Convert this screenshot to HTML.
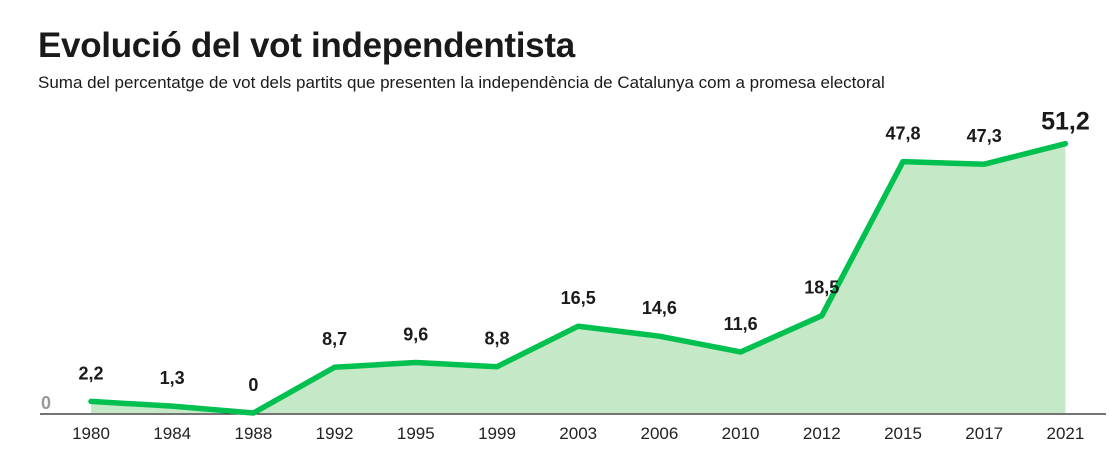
<!DOCTYPE html>
<html><head><meta charset="utf-8"><style>
body{margin:0;background:#fff;width:1109px;height:467px;overflow:hidden;font-family:"Liberation Sans",sans-serif}
h1{position:absolute;left:38px;top:26px;margin:0;font-size:35px;font-weight:bold;letter-spacing:-0.3px;color:#1a1a1a}
p{position:absolute;left:38px;top:73px;margin:0;font-size:17px;color:#1a1a1a}
svg{position:absolute;left:0;top:0}
</style></head><body>
<h1>Evolució del vot independentista</h1>
<p>Suma del percentatge de vot dels partits que presenten la independència de Catalunya com a promesa electoral</p>
<svg id="c" width="1109" height="467"></svg>
<script>
const years=["1980","1984","1988","1992","1995","1999","2003","2006","2010","2012","2015","2017","2021"];
const values=[2.2,1.3,0,8.7,9.6,8.8,16.5,14.6,11.6,18.5,47.8,47.3,51.2];
const labels=["2,2","1,3","0","8,7","9,6","8,8","16,5","14,6","11,6","18,5","47,8","47,3","51,2"];
const NS="http://www.w3.org/2000/svg";
const svg=document.getElementById('c');
const x=i=>91+i*81.2;
const y=v=>413-v*5.26;
function mk(t,a){const e=document.createElementNS(NS,t);for(const k in a)e.setAttribute(k,a[k]);svg.appendChild(e);return e;}
let pts=values.map((v,i)=>x(i)+','+y(v)).join(' ');
const area=mk('polygon',{points:x(0)+','+y(0)+' '+pts+' '+x(values.length-1)+','+y(0),fill:'#c5e8c6'});


const ax=mk('line',{x1:40,x2:1106,y1:414,y2:414,stroke:'#222','stroke-width':1.2});


const line=mk('polyline',{points:pts,fill:'none',stroke:'#00c050','stroke-width':5.5,'stroke-linejoin':'round','stroke-linecap':'round'});


const z=mk('text',{x:46,y:409,'font-size':18,'font-weight':'bold',fill:'#999','text-anchor':'middle'});z.textContent='0';


years.forEach((yr,i)=>{
 const t=mk('text',{x:x(i),y:439,'font-size':17,fill:'#222','text-anchor':'middle'});t.textContent=yr;
 
 
 const last=i===values.length-1;
 const l=mk('text',{x:x(i),y:y(values[i])-(last?14:22),'font-size':last?25:18,'font-weight':'bold',fill:'#1a1a1a','text-anchor':'middle'});l.textContent=labels[i];
 
 
});
</script>
</body></html>
